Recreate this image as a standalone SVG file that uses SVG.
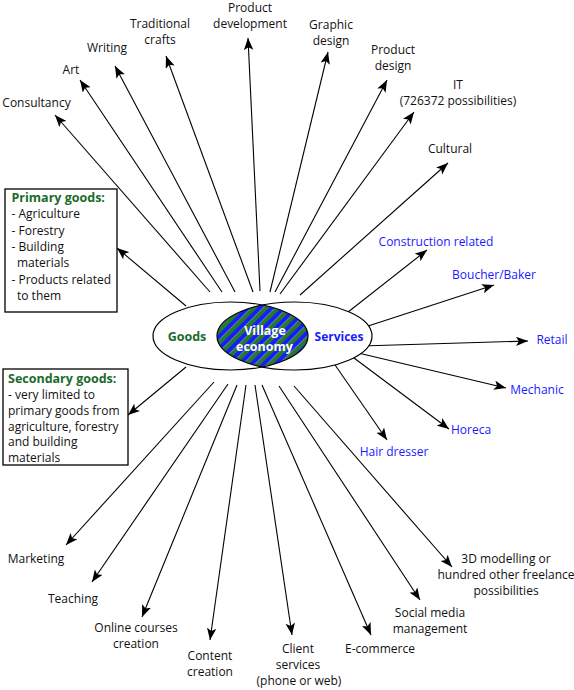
<svg xmlns="http://www.w3.org/2000/svg" width="574" height="690" viewBox="0 0 574 690">
<style>
.t{font-family:"Open Sans","Noto Sans",sans-serif;font-size:12px;fill:#111}
.c{text-anchor:middle}
.bl{fill:#1a1aff}
.gh{fill:#1b6b2b;font-weight:bold;font-size:12.5px}
.wh{fill:#fff;font-weight:bold;font-size:12.5px}
.sv{fill:#1a1aff;font-weight:bold;font-size:12px}
.ln{stroke:#000;stroke-width:1.1;fill:none;marker-end:url(#ah)}
.box{fill:#fff;stroke:#000;stroke-width:1.3}
.el{fill:none;stroke:#000;stroke-width:1.2}
</style>
<defs>
<marker id="ah" markerUnits="userSpaceOnUse" markerWidth="13" markerHeight="10" refX="12" refY="4.75" orient="auto">
<path d="M0,0 L12,4.75 L0,9.5 L2.8,4.75 z" fill="#000"/>
</marker>
<pattern id="stripes" patternUnits="userSpaceOnUse" width="8.5" height="8.5" patternTransform="rotate(45)">
<rect x="0" y="0" width="4.25" height="8.5" fill="#1a1aff"/>
<rect x="4.25" y="0" width="4.25" height="8.5" fill="#237a2a"/>
</pattern>
<clipPath id="leftClip"><ellipse cx="230.5" cy="336" rx="77.5" ry="34"/></clipPath>
</defs>

<g id="connectors">
<line class="ln" x1="210" y1="292" x2="55" y2="115"/>
<line class="ln" x1="222" y1="292" x2="80" y2="80"/>
<line class="ln" x1="235" y1="292" x2="115" y2="66"/>
<line class="ln" x1="253" y1="292" x2="166" y2="56"/>
<line class="ln" x1="260" y1="291" x2="248" y2="38"/>
<line class="ln" x1="270" y1="292" x2="328" y2="52"/>
<line class="ln" x1="275" y1="292" x2="387" y2="80"/>
<line class="ln" x1="280" y1="294" x2="414" y2="112"/>
<line class="ln" x1="300" y1="295" x2="448" y2="163"/>
<line class="ln" x1="186" y1="306" x2="117" y2="248"/>
<line class="ln" x1="186" y1="367" x2="128" y2="415"/>
<line class="ln" x1="343" y1="316" x2="427" y2="250"/>
<line class="ln" x1="362" y1="328" x2="494" y2="285"/>
<line class="ln" x1="361" y1="346" x2="528" y2="341"/>
<line class="ln" x1="354" y1="352" x2="506" y2="388"/>
<line class="ln" x1="350" y1="355" x2="449" y2="429"/>
<line class="ln" x1="333" y1="362" x2="387" y2="440"/>
<line class="ln" x1="214" y1="382" x2="66" y2="545"/>
<line class="ln" x1="228" y1="384" x2="92" y2="582"/>
<line class="ln" x1="237" y1="385" x2="142" y2="617"/>
<line class="ln" x1="246" y1="385" x2="210" y2="640"/>
<line class="ln" x1="255" y1="385" x2="292" y2="635"/>
<line class="ln" x1="262" y1="385" x2="371" y2="635"/>
<line class="ln" x1="279" y1="386" x2="420" y2="600"/>
<line class="ln" x1="294" y1="386" x2="452" y2="567"/>
</g>

<g id="core">
<ellipse cx="230.5" cy="336" rx="77.5" ry="34" fill="#fff"/>
<ellipse cx="294.5" cy="336" rx="77.5" ry="34" fill="#fff"/>
<ellipse cx="294.5" cy="336" rx="77.5" ry="34" fill="url(#stripes)" clip-path="url(#leftClip)"/>
<ellipse class="el" cx="230.5" cy="336" rx="77.5" ry="34"/>
<ellipse class="el" cx="294.5" cy="336" rx="77.5" ry="34"/>
</g>
<g id="goods"><text class="t gh c" x="187" y="341">Goods</text></g>
<g id="services"><text class="t sv c" x="339" y="341">Services</text></g>
<g id="village-economy"><text class="t wh c" x="265" y="335">Village</text><text class="t wh c" x="264.5" y="351">economy</text></g>

<g id="consultancy"><text class="t c" x="36.5" y="107">Consultancy</text></g>
<g id="art"><text class="t c" x="71" y="74">Art</text></g>
<g id="writing"><text class="t c" x="107" y="52">Writing</text></g>
<g id="traditional-crafts"><text class="t c" x="160" y="28">Traditional</text><text class="t c" x="160" y="44">crafts</text></g>
<g id="product-development"><text class="t c" x="250" y="12">Product</text><text class="t c" x="250" y="28">development</text></g>
<g id="graphic-design"><text class="t c" x="331" y="29">Graphic</text><text class="t c" x="331" y="45">design</text></g>
<g id="product-design"><text class="t c" x="393" y="54">Product</text><text class="t c" x="393" y="70">design</text></g>
<g id="it"><text class="t c" x="458" y="89">IT</text><text class="t c" x="458" y="105">(726372 possibilities)</text></g>
<g id="cultural"><text class="t c" x="450" y="153">Cultural</text></g>

<g id="primary-goods">
<rect class="box" x="5" y="189" width="112" height="123"/>
<text class="t gh" x="11.5" y="202">Primary goods:</text>
<text class="t" x="11.5" y="218">- Agriculture</text>
<text class="t" x="11.5" y="234.5">- Forestry</text>
<text class="t" x="11.5" y="251">- Building</text>
<text class="t" x="17" y="267">materials</text>
<text class="t" x="11.5" y="283.5">- Products related</text>
<text class="t" x="17" y="300">to them</text>
</g>
<g id="secondary-goods">
<rect class="box" x="3" y="369" width="125" height="96"/>
<text class="t gh" x="8" y="383">Secondary goods:</text>
<text class="t" x="8" y="399">- very limited to</text>
<text class="t" x="8" y="414.5">primary goods from</text>
<text class="t" x="8" y="430.5">agriculture, forestry</text>
<text class="t" x="8" y="446">and building</text>
<text class="t" x="8" y="462">materials</text>
</g>

<g id="construction"><text class="t bl c" x="436" y="246">Construction related</text></g>
<g id="boucher-baker"><text class="t bl c" x="494" y="279">Boucher/Baker</text></g>
<g id="retail"><text class="t bl c" x="552" y="344">Retail</text></g>
<g id="mechanic"><text class="t bl c" x="537" y="394">Mechanic</text></g>
<g id="horeca"><text class="t bl c" x="471" y="434">Horeca</text></g>
<g id="hair-dresser"><text class="t bl c" x="394" y="456">Hair dresser</text></g>

<g id="marketing"><text class="t c" x="36" y="563">Marketing</text></g>
<g id="teaching"><text class="t c" x="73" y="603">Teaching</text></g>
<g id="online-courses"><text class="t c" x="136" y="632">Online courses</text><text class="t c" x="136" y="648">creation</text></g>
<g id="content-creation"><text class="t c" x="210" y="660">Content</text><text class="t c" x="210" y="676">creation</text></g>
<g id="client-services"><text class="t c" x="298" y="653">Client</text><text class="t c" x="298" y="669">services</text><text class="t c" x="299" y="685">(phone or web)</text></g>
<g id="e-commerce"><text class="t c" x="380" y="653">E-commerce</text></g>
<g id="social-media"><text class="t c" x="430" y="617">Social media</text><text class="t c" x="430" y="633">management</text></g>
<g id="freelance"><text class="t c" x="506" y="563">3D modelling or</text><text class="t c" x="506" y="579">hundred other freelance</text><text class="t c" x="506" y="595">possibilities</text></g>
</svg>
